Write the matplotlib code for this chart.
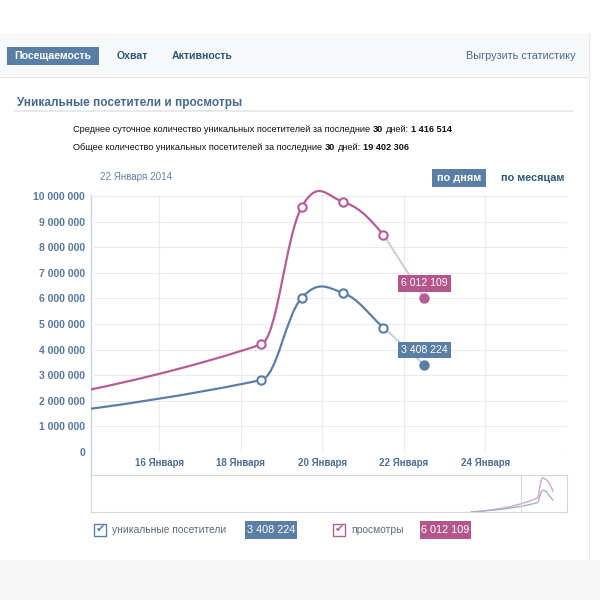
import numpy as np
import matplotlib.pyplot as plt
from matplotlib.path import Path
from matplotlib.patches import PathPatch, Rectangle

plt.rcParams['font.family'] = ['Liberation Sans', 'DejaVu Sans']

# данные (дни января, точки в полдень)
days = [1.5, 18.5, 19.5, 20.5, 21.5, 22.5]
visitors = [0, 2810000, 6030000, 6220000, 4860000, 3408224]
views = [0, 4200000, 9580000, 9780000, 8480000, 6012109]
tick_days = [16, 18, 20, 22, 24, 26]
tick_labels = ['16 Января', '18 Января', '20 Января', '22 Января', '24 Января', '']
y_ticks = [0, 1e6, 2e6, 3e6, 4e6, 5e6, 6e6, 7e6, 8e6, 9e6, 10e6]

BLUE = '#5a7ea5'
PINK = '#b65c97'
BLUE_BADGE = '#5a7fa6'
PINK_BADGE = '#b4558c'
DARK = '#2b587a'


def fmt(v):
    return f'{int(v):,}'.replace(',', ' ')


def controls(xs, ys, smoothing=1.5):
    # сглаживание как в highcharts (без ограничения выбросов)
    n = len(xs)
    left, right = [], []
    for i in range(n):
        x, y = xs[i], ys[i]
        if 0 < i < n - 1:
            lx = (smoothing * x + xs[i - 1]) / (smoothing + 1)
            ly = (smoothing * y + ys[i - 1]) / (smoothing + 1)
            rx = (smoothing * x + xs[i + 1]) / (smoothing + 1)
            ry = (smoothing * y + ys[i + 1]) / (smoothing + 1)
            corr = (ry - ly) * (rx - x) / (rx - lx) + y - ry
            left.append((lx, ly + corr))
            right.append((rx, ry + corr))
        else:
            left.append((x, y))
            right.append((x, y))
    return left, right


def spline(xs, ys, upto):
    left, right = controls(xs, ys)
    verts = [(xs[0], ys[0])]
    codes = [Path.MOVETO]
    for i in range(1, upto + 1):
        verts += [right[i - 1], left[i], (xs[i], ys[i])]
        codes += [Path.CURVE4] * 3
    return Path(verts, codes)


fig = plt.figure(figsize=(6, 6), dpi=100)
bg = fig.add_axes([0, 0, 1, 1])
bg.set_xlim(0, 600)
bg.set_ylim(600, 0)
bg.axis('off')


def fx(px):
    return px / 600


def fy(py):
    return 1 - py / 600


# шапка
bg.add_patch(Rectangle((0, 33), 589, 43, fc='#f7f8fa', ec='none'))
bg.plot([0, 589], [76.5, 76.5], color='#e3e7eb', lw=0.8)
bg.plot([589, 589], [33, 560], color='#e6e8eb', lw=0.8)
bg.add_patch(Rectangle((0, 560), 600, 40, fc='#f7f7f7', ec='none'))

bg.add_patch(Rectangle((7, 47), 92, 18, fc=BLUE_BADGE, ec='none'))
bg.text(53, 56, 'Посещаемость', color='white', fontsize=7.6, fontweight='bold',
        ha='center', va='center')
bg.text(117, 56, 'Охват', color=DARK, fontsize=7.6, fontweight='bold', va='center')
bg.text(172, 56, 'Активность', color=DARK, fontsize=7.6, fontweight='bold', va='center')
bg.text(576, 56, 'Выгрузить статистику', color='#45688e', fontsize=7.8,
        ha='right', va='center')

bg.text(17, 103, 'Уникальные посетители и просмотры', color='#45688e',
        fontsize=8.5, fontweight='bold', va='center')
bg.plot([15, 572], [111, 111], color='#e1e6eb', lw=1.2)

renderer = fig.canvas.get_renderer()


def runs(x, y, parts, size):
    gap = 0.28 * size * 100 / 72
    for s, w in parts:
        t = bg.text(x, y, s, fontsize=size, fontweight=w, va='center', color='#111')
        x += t.get_window_extent(renderer=renderer).width + gap


runs(73, 130, [('Среднее суточное количество уникальных посетителей за последние', 'normal'),
               ('30', 'bold'), ('дней:', 'normal'), ('1 416 514', 'bold')], 6.6)
runs(73, 148, [('Общее количество уникальных посетителей за последние', 'normal'),
               ('30', 'bold'), ('дней:', 'normal'), ('19 402 306', 'bold')], 6.6)

bg.text(100, 177, '22 Января 2014', color='#6383a8', fontsize=7.1, va='center')
bg.add_patch(Rectangle((432, 169), 54, 18, fc=BLUE_BADGE, ec='none'))
bg.text(459, 178, 'по дням', color='white', fontsize=7.8, fontweight='bold',
        ha='center', va='center')
bg.text(501, 178, 'по месяцам', color=DARK, fontsize=7.8, fontweight='bold', va='center')

# основной график
ax = fig.add_axes([fx(91), fy(452), fx(567) - fx(91), fy(195) - fy(452)])
ax.set_facecolor('none')
ax.set_xlim(14.33, 26)
ax.set_ylim(0, 10.04e6)
ax.set_yticks(y_ticks)
ax.set_yticklabels([fmt(v) for v in y_ticks])
ax.set_xticks(tick_days)
ax.set_xticklabels(tick_labels)
ax.tick_params(length=0, pad=4.3)
for lab in ax.get_yticklabels():
    lab.set_fontsize(7.5)
    lab.set_fontweight('bold')
    lab.set_color('#56789d')
for lab in ax.get_xticklabels():
    lab.set_fontsize(7)
    lab.set_fontweight('bold')
    lab.set_color('#4c6f95')
ax.tick_params(axis='x', pad=4)
ax.grid(True, color='#e8ecf0', lw=0.8)
ax.set_axisbelow(True)
for s in ax.spines.values():
    s.set_visible(False)

# обрезка только слева/справа, сверху кривая может выходить за рамку
clip = Rectangle((0, 0), 1, 1.1, transform=ax.transAxes, fc='none', ec='none')

n = len(days)
for vals, col, light in [(views, PINK, '#dccbd6'), (visitors, BLUE, '#c9d2dc')]:
    curve = PathPatch(spline(days, vals, n - 2), fc='none', ec=col, lw=1.6, zorder=3)
    ax.add_patch(curve)
    curve.set_clip_path(clip)
    ax.plot(days[-2:], vals[-2:], color=light, lw=1.6, zorder=2)
    ax.plot(days[1:-1], vals[1:-1], 'o', ms=6, mfc='white', mec=col, mew=1.5, zorder=4)
    ax.plot(days[-1], vals[-1], 'o', ms=6.5, color=col, zorder=4)

for vals, col in [(views, PINK_BADGE), (visitors, BLUE_BADGE)]:
    ax.annotate(fmt(vals[-1]), xy=(days[-1], vals[-1]), xytext=(0, 7),
                textcoords='offset points', ha='center', va='bottom', color='white',
                fontsize=7.6, bbox=dict(boxstyle='square,pad=0.3', fc=col, ec='none'),
                zorder=5)

# левая ось и навигатор
bg.plot([91, 91], [195, 512], color='#c8d2dc', lw=1)
nav = fig.add_axes([fx(91), fy(512), fx(567) - fx(91), fy(475) - fy(512)])
nav.set_xlim(-94.8, 26)
nav.set_ylim(0, 11e6)
nav.set_xticks([])
nav.set_yticks([])
for s in nav.spines.values():
    s.set_color('#cfd7e0')
    s.set_linewidth(0.8)
for vals, col in [(views, '#d3a6c4'), (visitors, '#9fb2c7')]:
    nav.add_patch(PathPatch(spline(days, vals, n - 1), fc='none', ec=col, lw=1))
nav.axvline(14.33, color='#cfd7e0', lw=0.8)

# легенда
for x0, col, name, bx, bw, val, bcol in [
        (94, BLUE, 'уникальные посетители', 245, 52, visitors[-1], BLUE_BADGE),
        (333, PINK, 'просмотры', 420, 51, views[-1], PINK_BADGE)]:
    bg.add_patch(Rectangle((x0, 524), 12, 12, fc='white', ec=col, lw=1))
    bg.text(x0 + 6.5, 529, '✔', family='DejaVu Sans', color=col, fontsize=8,
            ha='center', va='center')
    bg.text(x0 + 18, 530, name, color='#5f6b77', fontsize=7.4, va='center')
    bg.add_patch(Rectangle((bx, 521), bw, 18, fc=bcol, ec='none'))
    bg.text(bx + bw / 2, 530, fmt(val), color='white', fontsize=7.8,
            ha='center', va='center')

fig.savefig('out.png', dpi=100)
